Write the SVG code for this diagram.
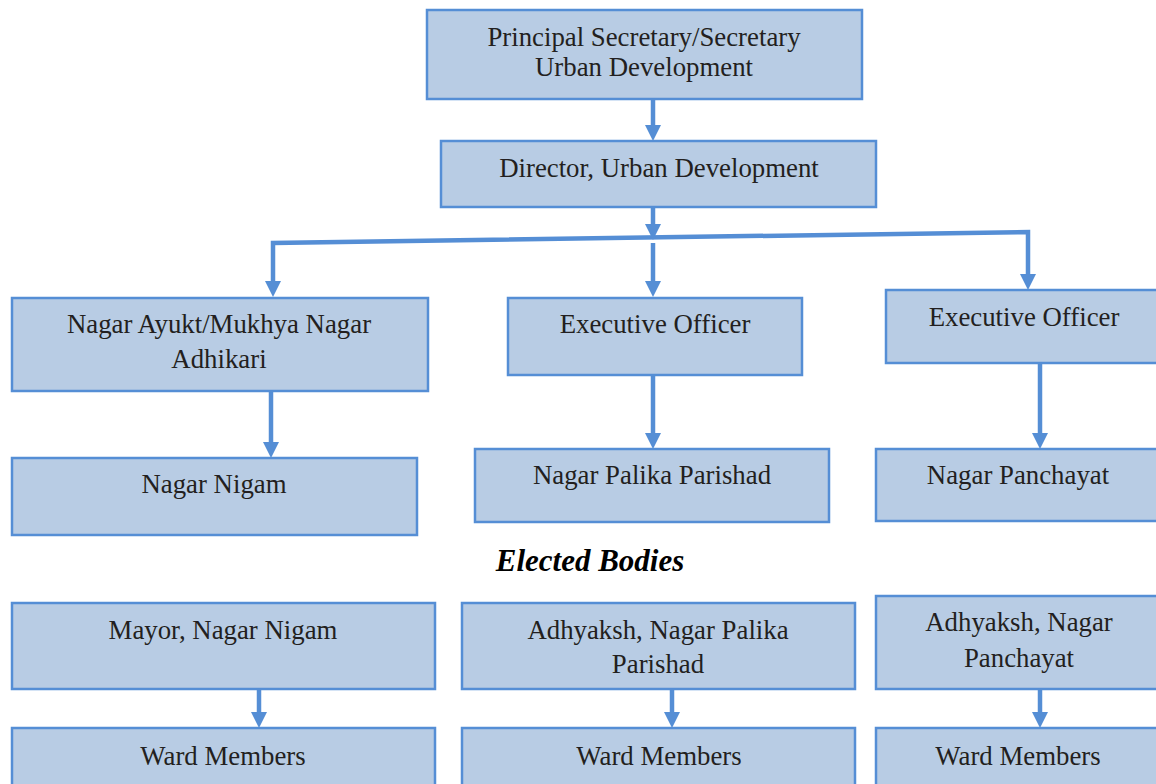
<svg xmlns="http://www.w3.org/2000/svg" width="1156" height="784" viewBox="0 0 1156 784">
<style>
.box{fill:#b8cce4;stroke:#558ed5;stroke-width:2.5}
.t{font-family:"Liberation Serif","Times New Roman",serif;font-size:26.8px;fill:#231f20;text-anchor:middle}
.h{font-family:"Liberation Serif","Times New Roman",serif;font-size:31px;font-weight:bold;font-style:italic;fill:#000;text-anchor:middle}
.c{fill:none;stroke:#558ed5;stroke-width:4.5}
.a{fill:#558ed5}
</style>
<rect width="1156" height="784" fill="#fff"/>
<g id="connectors">
<line class="c" x1="653" y1="99" x2="653" y2="128"/>
<path class="a" d="M645,125 L661,125 L653,141 Z"/>
<line class="c" x1="653" y1="207" x2="653" y2="227"/>
<path class="a" d="M645,224 L661,224 L653,240 Z"/>
<path class="c" d="M273,284 L273,243 L1028,232 L1028,277"/>
<path class="a" d="M265,281 L281,281 L273,297 Z"/>
<path class="a" d="M1020,274 L1036,274 L1028,290 Z"/>
<line class="c" x1="653" y1="243" x2="653" y2="284"/>
<path class="a" d="M645,281 L661,281 L653,297 Z"/>
<line class="c" x1="271" y1="391" x2="271" y2="445"/>
<path class="a" d="M263,442 L279,442 L271,458 Z"/>
<line class="c" x1="653" y1="375" x2="653" y2="436"/>
<path class="a" d="M645,433 L661,433 L653,449 Z"/>
<line class="c" x1="1040" y1="363" x2="1040" y2="436"/>
<path class="a" d="M1032,433 L1048,433 L1040,449 Z"/>
<line class="c" x1="259" y1="689" x2="259" y2="715"/>
<path class="a" d="M251,712 L267,712 L259,728 Z"/>
<line class="c" x1="672" y1="689" x2="672" y2="715"/>
<path class="a" d="M664,712 L680,712 L672,728 Z"/>
<line class="c" x1="1040" y1="689" x2="1040" y2="715"/>
<path class="a" d="M1032,712 L1048,712 L1040,728 Z"/>
</g>
<g id="n1"><rect class="box" x="427" y="10" width="435" height="89"/><text class="t" x="644" y="46">Principal Secretary/Secretary</text><text class="t" x="644" y="76">Urban Development</text></g>
<g id="n2"><rect class="box" x="441" y="141" width="435" height="66"/><text class="t" x="659" y="177">Director, Urban Development</text></g>
<g id="n3"><rect class="box" x="12" y="298" width="416" height="93"/><text class="t" x="219" y="333">Nagar Ayukt/Mukhya Nagar</text><text class="t" x="219" y="368">Adhikari</text></g>
<g id="n4"><rect class="box" x="508" y="298" width="294" height="77"/><text class="t" x="655" y="333">Executive Officer</text></g>
<g id="n5"><rect class="box" x="886" y="290" width="275" height="73"/><text class="t" x="1024" y="326">Executive Officer</text></g>
<g id="n6"><rect class="box" x="12" y="458" width="405" height="77"/><text class="t" x="214" y="493">Nagar Nigam</text></g>
<g id="n7"><rect class="box" x="475" y="449" width="354" height="73"/><text class="t" x="652" y="484">Nagar Palika Parishad</text></g>
<g id="n8"><rect class="box" x="876" y="449" width="285" height="72"/><text class="t" x="1018" y="484">Nagar Panchayat</text></g>
<g id="title"><text class="h" x="590" y="571">Elected Bodies</text></g>
<g id="n9"><rect class="box" x="12" y="603" width="423" height="86"/><text class="t" x="223" y="639">Mayor, Nagar Nigam</text></g>
<g id="n10"><rect class="box" x="462" y="603" width="393" height="86"/><text class="t" x="658" y="639">Adhyaksh, Nagar Palika</text><text class="t" x="658" y="673">Parishad</text></g>
<g id="n11"><rect class="box" x="876" y="596" width="285" height="93"/><text class="t" x="1019" y="631">Adhyaksh, Nagar</text><text class="t" x="1019" y="667">Panchayat</text></g>
<g id="n12"><rect class="box" x="12" y="728" width="423" height="70"/><text class="t" x="223" y="765">Ward Members</text></g>
<g id="n13"><rect class="box" x="462" y="728" width="393" height="70"/><text class="t" x="659" y="765">Ward Members</text></g>
<g id="n14"><rect class="box" x="876" y="728" width="285" height="70"/><text class="t" x="1018" y="765">Ward Members</text></g>
</svg>
